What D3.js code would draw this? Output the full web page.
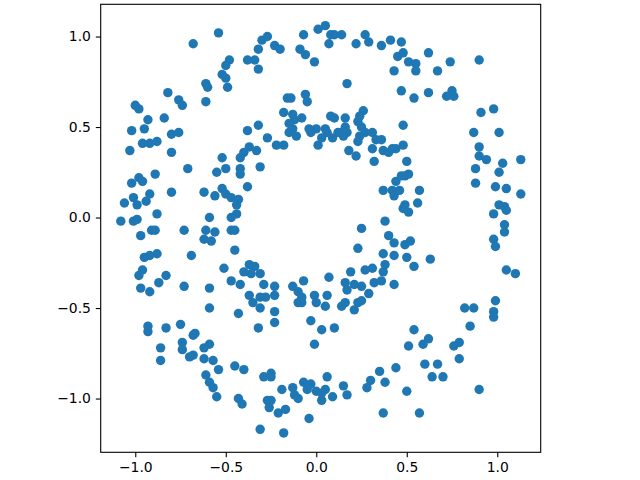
<!DOCTYPE html>
<html>
<head>
  <meta charset="utf-8">
  <title>Circles</title>
  <style>
    body { margin: 0; background: #fff; }
    .tick text { font-family: "DejaVu Sans", sans-serif; font-size: 13.9px; fill: #000; }
  </style>
</head>
<body>
  <svg width="640" height="480" class="svg-scatter"></svg>
<script src="https://cdnjs.cloudflare.com/ajax/libs/d3/7.8.5/d3.min.js"></script>
<script type="text/javascript">
  // tick values
  var xTicks = [-1.0, -0.5, 0.0, 0.5, 1.0]
  var yTicks = [-1.0, -0.5, 0.0, 0.5, 1.0]

  // x / y pairs
  var points = [
    [-0.54,1.02],[-0.68,0.96],[-0.48,0.87],[-0.50,0.84],[-0.52,0.79],[-0.50,0.77],[-0.38,0.87],[-0.61,0.74],
    [-0.60,0.72],[-0.49,0.72],[-0.82,0.69],[-0.76,0.65],[-0.74,0.62],[-0.61,0.64],[-1.00,0.62],[-0.98,0.60],
    [-0.93,0.54],[-0.84,0.55],[-0.95,0.49],[-1.02,0.48],[-0.80,0.46],[-0.76,0.47],[-0.96,0.41],[-0.92,0.41],
    [-0.88,0.42],[-1.03,0.37],[-0.80,0.36],[-0.38,0.48],[-0.40,0.36],[-0.37,0.39],
    [0.05,1.06],[0.01,1.04],[-0.07,1.01],[0.08,1.01],[0.10,1.01],[0.14,1.01],[0.07,0.96],[0.27,1.01],
    [0.29,0.97],[0.22,0.96],[0.36,0.95],[0.41,0.98],[-0.30,0.98],[-0.27,1.00],[-0.32,0.93],[-0.23,0.95],
    [-0.20,0.93],[-0.09,0.93],[-0.06,0.90],[-0.01,0.86],[-0.34,0.87],[-0.32,0.82],[0.43,0.81],[0.17,0.74],
    [-0.16,0.66],[-0.14,0.66],[-0.06,0.68],[-0.05,0.64],[-0.18,0.58],[-0.13,0.57],[-0.12,0.54],[-0.08,0.55],
    [-0.15,0.52],[-0.13,0.49],[0.26,0.59],[0.24,0.56],[0.23,0.53],[0.08,0.56],[0.10,0.55],[0.16,0.55],
    [-0.32,0.51],[-0.15,0.47],[-0.11,0.45],[-0.04,0.49],[0.00,0.49],[-0.03,0.47],[0.05,0.49],[0.06,0.47],
    [0.03,0.44],[0.01,0.40],[0.09,0.44],[0.12,0.47],[0.14,0.47],[0.16,0.50],[0.17,0.47],[0.15,0.45],
    [0.25,0.50],[0.27,0.47],[0.24,0.45],[0.23,0.42],[0.31,0.47],[0.33,0.43],[0.36,0.43],[0.31,0.38],
    [0.37,0.37],[0.40,0.36],[0.42,0.38],[-0.27,0.44],[-0.22,0.40],[-0.18,0.40],[-0.33,0.37],[0.18,0.37],
    [0.22,0.34],
    [0.47,0.97],[0.45,0.89],[0.48,0.91],[0.62,0.91],[0.51,0.86],[0.55,0.85],[0.55,0.81],[0.67,0.81],
    [0.74,0.86],[0.90,0.87],[0.47,0.70],[0.54,0.66],[0.62,0.69],[0.72,0.67],[0.75,0.70],[0.76,0.67],
    [0.91,0.58],[0.98,0.60],[0.48,0.51],[0.87,0.47],[1.01,0.47],[0.90,0.39],[0.44,0.38],[0.48,0.40],
    [-0.52,0.33],[-0.50,0.27],[-0.55,0.25],[-0.42,0.33],[-0.42,0.27],[-0.42,0.24],[-0.71,0.27],[-0.89,0.24],
    [-0.98,0.22],[-0.96,0.20],[-1.02,0.19],[-0.80,0.14],[-0.62,0.14],[-0.56,0.12],[-0.52,0.16],[-0.50,0.13],
    [-0.47,0.11],[-0.43,0.10],[-0.38,0.17],[-0.92,0.13],[-0.94,0.09],[-1.01,0.11],[-0.99,0.07],[-1.06,0.08],
    [-0.44,0.07],[-0.44,0.02],[-0.47,0.00],[-0.88,0.02],[-0.59,0.00],[-1.08,-0.02],[-1.01,-0.02],[-0.99,-0.01],
    [-0.91,-0.07],[-0.89,-0.07],[-0.73,-0.07],[-0.61,-0.07],[-0.56,-0.08],[-0.62,-0.12],[-0.58,-0.13],[-0.47,-0.07],
    [-0.45,-0.07],[-0.97,-0.10],[-0.45,-0.18],[-0.95,-0.22],[-0.92,-0.21],[-0.88,-0.20],[-0.69,-0.21],[-0.96,-0.29],
    [-0.98,-0.32],[-0.83,-0.32],[-0.87,-0.36],[-0.97,-0.39],[-0.92,-0.41],[-0.73,-0.38],[-0.59,-0.39],[-0.51,-0.28],
    [-0.47,-0.35],[-0.42,-0.37],[-0.40,-0.30],[-0.37,-0.26],[-0.34,-0.27],[-0.31,-0.31],[-0.36,-0.31],[-0.37,-0.43],
    [-0.31,0.28],[0.32,0.31],[0.37,0.15],[0.42,0.15],[0.44,0.20],[0.43,0.12],[0.46,0.15],[0.38,-0.02],
    [0.25,-0.06],[0.40,-0.10],[0.43,-0.14],[0.23,-0.17],[0.37,-0.20],[0.43,-0.21],[0.38,-0.26],[0.31,-0.28],
    [0.27,-0.29],[0.19,-0.30],[0.37,-0.30],[0.07,-0.33],[-0.07,-0.35],[0.32,-0.36],[0.36,-0.35],[0.43,-0.37],
    [0.16,-0.36],[0.17,-0.40],[0.21,-0.37],[0.25,-0.38],[0.29,-0.42],[-0.13,-0.38],[-0.10,-0.41],[-0.08,-0.44],
    [-0.23,-0.38],[-0.23,-0.43],[-0.29,-0.37],[-0.01,-0.43],[0.06,-0.43],[-0.31,-0.44],[-0.28,-0.44],[-0.35,-0.47],
    [0.50,0.31],[0.90,0.34],[0.94,0.32],[0.88,0.27],[1.03,0.30],[1.01,0.25],[1.13,0.32],[0.49,0.23],
    [0.51,0.24],[0.47,0.23],[0.88,0.19],[0.99,0.17],[1.05,0.16],[1.13,0.13],[0.57,0.15],[0.49,0.07],
    [0.51,0.03],[0.48,0.05],[0.56,0.08],[1.01,0.07],[0.98,0.02],[1.04,0.06],[1.05,0.04],[1.04,-0.04],
    [1.04,-0.08],[0.98,-0.12],[0.99,-0.16],[0.49,-0.15],[0.52,-0.13],[0.50,-0.22],[0.54,-0.27],[0.63,-0.23],
    [1.05,-0.29],[1.10,-0.31],[0.99,-0.46],
    [-0.59,-0.50],[-0.43,-0.53],[-0.93,-0.60],[-0.93,-0.63],[-0.83,-0.61],[-0.75,-0.59],[-0.68,-0.65],[-0.67,-0.64],
    [-0.86,-0.72],[-0.86,-0.79],[-0.74,-0.69],[-0.74,-0.73],[-0.70,-0.77],[-0.68,-0.76],[-0.62,-0.72],[-0.59,-0.70],
    [-0.62,-0.78],[-0.57,-0.79],[-0.54,-0.84],[-0.45,-0.82],[-0.40,-0.84],[-0.61,-0.87],[-0.59,-0.91],[-0.57,-0.94],
    [-0.55,-0.99],[-0.43,-1.00],[-0.41,-1.03],
    [-0.31,-0.50],[-0.23,-0.52],[-0.23,-0.58],[-0.32,-0.61],[-0.10,-0.47],[-0.08,-0.47],[0.00,-0.47],[0.05,-0.49],
    [0.14,-0.49],[0.16,-0.47],[0.21,-0.51],[0.23,-0.47],[0.25,-0.46],[-0.03,-0.57],[0.03,-0.62],[0.10,-0.61],
    [-0.01,-0.70],[-0.29,-0.88],[-0.25,-0.86],[-0.25,-0.88],[-0.19,-0.95],[-0.13,-0.94],[-0.12,-0.98],[-0.10,-1.00],
    [-0.07,-0.91],[-0.05,-0.95],[-0.03,-0.92],[0.00,-0.96],[0.05,-0.95],[0.03,-0.97],[0.03,-1.01],[0.06,-0.88],
    [0.09,-0.99],[0.15,-0.93],[0.17,-0.98],[0.28,-0.94],[0.30,-0.90],[0.35,-0.85],[0.38,-0.91],[0.44,-0.83],
    [-0.27,-1.01],[-0.25,-1.01],[-0.26,-1.05],[-0.21,-1.08],[-0.17,-1.06],[-0.04,-1.11],[-0.31,-1.17],[-0.18,-1.19],
    [0.37,-1.08],
    [0.82,-0.50],[0.87,-0.50],[0.98,-0.52],[0.98,-0.55],[0.85,-0.60],[0.54,-0.62],[0.62,-0.67],[0.59,-0.70],
    [0.51,-0.71],[0.76,-0.71],[0.79,-0.69],[0.79,-0.78],[0.60,-0.81],[0.67,-0.81],[0.64,-0.88],[0.70,-0.88],
    [0.50,-0.96],[0.90,-0.95],[0.57,-1.08]
  ]

  var svg = d3.select('.svg-scatter')

  // axes box (equal aspect)
  var boxLeft = 100.7, boxRight = 540.7, boxTop = 4.3, boxBottom = 452.3

  var x = d3.scaleLinear()
            .domain([-1.191, 1.240])
            .range([boxLeft, boxRight])

  var y = d3.scaleLinear()
            .domain([-1.297, 1.178])
            .range([boxBottom, boxTop])

  var fmt = function(d){ return d3.format('.1f')(d).replace('-', '\u2212') }

  svg.append('g')
    .selectAll('circle')
    .data(points)
    .enter()
    .append('circle')
    .attr('cx', function(d){ return x(d[0]) })
    .attr('cy', function(d){ return y(d[1]) })
    .attr('r', 4.7)
    .attr('fill', '#1f77b4')

  // frame
  svg.append('rect')
    .attr('x', boxLeft)
    .attr('y', boxTop)
    .attr('width', boxRight - boxLeft)
    .attr('height', boxBottom - boxTop)
    .attr('fill', 'none')
    .attr('stroke', '#000')
    .attr('stroke-width', 1.1)

  var xAxis = svg.append('g')
    .attr('transform', 'translate(0,' + boxBottom + ')')
    .call(d3.axisBottom(x).tickValues(xTicks).tickFormat(fmt).tickSize(4.9).tickPadding(4.9))

  var yAxis = svg.append('g')
    .attr('transform', 'translate(' + boxLeft + ',0)')
    .call(d3.axisLeft(y).tickValues(yTicks).tickFormat(fmt).tickSize(4.9).tickPadding(4.9))

  xAxis.select('.domain').remove()
  yAxis.select('.domain').remove()
  svg.selectAll('.tick line').attr('stroke', '#000').attr('stroke-width', 1.1)
  svg.selectAll('.tick text').attr('font-family', null).attr('font-size', null)
</script>
</body>
</html>
